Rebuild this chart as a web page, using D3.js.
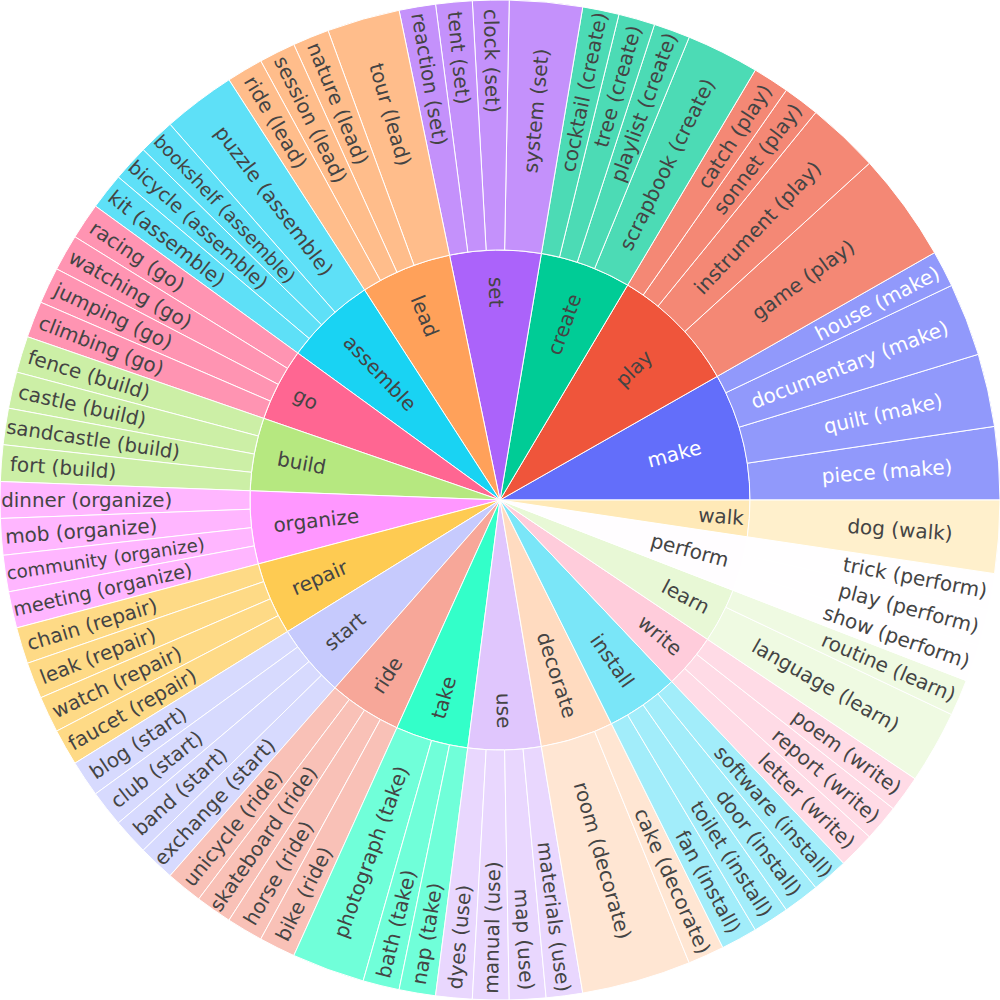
<!DOCTYPE html>
<html>
<head>
<meta charset="utf-8">
<script src="https://cdn.jsdelivr.net/npm/d3@7"></script>
<style>
  body { margin: 0; background: #fff; }
</style>
</head>
<body>
<script>
// verbs of the inner ring, counter-clockwise from 3 o'clock
var verbs = ["make","play","create","set","lead","assemble","go","build","organize","repair",
             "start","ride","take","use","decorate","install","write","learn","perform","walk"];

// nouns for each verb (outer ring)
var nouns = [
  ["piece","quilt","documentary","house"],
  ["game","instrument","sonnet","catch"],
  ["scrapbook","playlist","tree","cocktail"],
  ["system","clock","tent","reaction"],
  ["tour","nature","session","ride"],
  ["puzzle","bookshelf","bicycle","kit"],
  ["racing","watching","jumping","climbing"],
  ["fence","castle","sandcastle","fort"],
  ["dinner","mob","community","meeting"],
  ["chain","leak","watch","faucet"],
  ["blog","club","band","exchange"],
  ["unicycle","skateboard","horse","bike"],
  ["photograph","bath","nap"],
  ["dyes","manual","map","materials"],
  ["room","cake"],
  ["fan","toilet","door","software"],
  ["letter","report","poem"],
  ["language","routine"],
  ["show","play","trick"],
  ["dog"]
];

// counts for each noun
var counts = [
  [2,2,2,1],
  [3,2,1,1],
  [2,1,1,1],
  [2,1,1,1],
  [2,1,1,1],
  [2,1,1,1],
  [1,1,1,1],
  [1,1,1,1],
  [1,1,1,1],
  [1,1,1,1],
  [1,1,1,1],
  [1,1,1,1],
  [2,1,1],
  [1,1,1,1],
  [3,1],
  [1,1,1,1],
  [1,1,1],
  [2,1],
  [1,1,1],
  [2]
];

var colorway = ["#636efa","#EF553B","#00cc96","#ab63fa","#FFA15A",
                "#19d3f3","#FF6692","#B6E880","#FF97FF","#FECB52"];

var width = 1000, height = 1000;
var cx = 500, cy = 500, outerR = 500;
var TEXTPAD = 3;

var rootData = {
  name: "",
  children: verbs.map(function(v, i){
    return {
      name: v, vi: i,
      children: nouns[i].map(function(n, j){
        return {name: n + " (" + v + ")", vi: i, value: counts[i][j]};
      })
    };
  })
};

var root = d3.hierarchy(rootData).sum(function(d){ return d.children ? 0 : d.value; });
d3.partition().size([2 * Math.PI, 3])(root);

var radius = d3.scaleLinear().domain([1, 3]).range([0, outerR]);

function verbColor(i) {
  var c = colorway[i % 10];
  if (i >= 10) {
    var h = d3.hsl(c);
    h.l = Math.min(1, h.l + 0.2);
    c = h.formatHex();
  }
  return c;
}

function textColor(c) {
  var rgb = d3.rgb(c);
  var br = (rgb.r * 299 + rgb.g * 587 + rgb.b * 114) / 1000;
  return br >= 128 ? "#444" : "#fff";
}

var arc = d3.arc()
  .startAngle(function(d){ return Math.PI / 2 - d.x1; })
  .endAngle(function(d){ return Math.PI / 2 - d.x0; })
  .innerRadius(function(d){ return radius(d.y0); })
  .outerRadius(function(d){ return radius(d.y1); });

var svg = d3.select("body").append("svg")
  .attr("width", width)
  .attr("height", height);

var nodes = root.descendants().filter(function(d){ return d.depth > 0; });

var g = svg.append("g").attr("transform", "translate(" + cx + "," + cy + ")");

g.selectAll("path")
  .data(nodes)
  .enter()
  .append("path")
  .attr("d", arc)
  .attr("fill", function(d){ return verbColor(d.data.vi); })
  .attr("fill-opacity", function(d){ return d.children ? 1 : 0.7; })
  .attr("stroke", "#fff")
  .attr("stroke-width", 1);

// radial text, shrunk to fit the sector when needed
function radialFit(bb, d) {
  var rpx0 = radius(d.y0), rpx1 = radius(d.y1);
  var r = Math.max(0, rpx1 - 2 * TEXTPAD);
  var ring = 1 - rpx0 / rpx1;
  var half = 0.5 * Math.min(d.x1 - d.x0, Math.PI);
  var a = bb.width / bb.height;
  var q = a + 1 / (2 * Math.tan(half));
  var s = r * Math.min(1 / (Math.sqrt(q * q + 0.5) + q),
                       ring / (Math.sqrt(a * a + ring / 2) + a));
  var b = s / r;
  return {scale: Math.min(1, 2 * s / bb.height), rCenter: Math.cos(b) - a * b, rpx1: rpx1};
}

var labels = svg.append("g");

nodes.forEach(function(d){
  var col = verbColor(d.data.vi);
  var t = labels.append("text")
    .attr("font-family", "'DejaVu Sans', Verdana, sans-serif")
    .attr("font-size", 20)
    .attr("fill", textColor(col))
    .text(d.data.name);
  var bb = t.node().getBBox();
  var fit = radialFit(bb, d);
  var mid = (d.x0 + d.x1) / 2;
  var R = fit.rCenter * fit.rpx1;
  var px = cx + R * Math.cos(mid);
  var py = cy - R * Math.sin(mid);
  var deg = -mid * 180 / Math.PI;
  while (deg < -90) deg += 180;
  while (deg >= 90) deg -= 180;
  var mx = bb.x + bb.width / 2, my = bb.y + bb.height / 2;
  t.attr("transform", "translate(" + px + "," + py + ") rotate(" + deg + ") scale(" + fit.scale +
         ") translate(" + (-mx) + "," + (-my) + ")");
});
</script>
</body>
</html>
